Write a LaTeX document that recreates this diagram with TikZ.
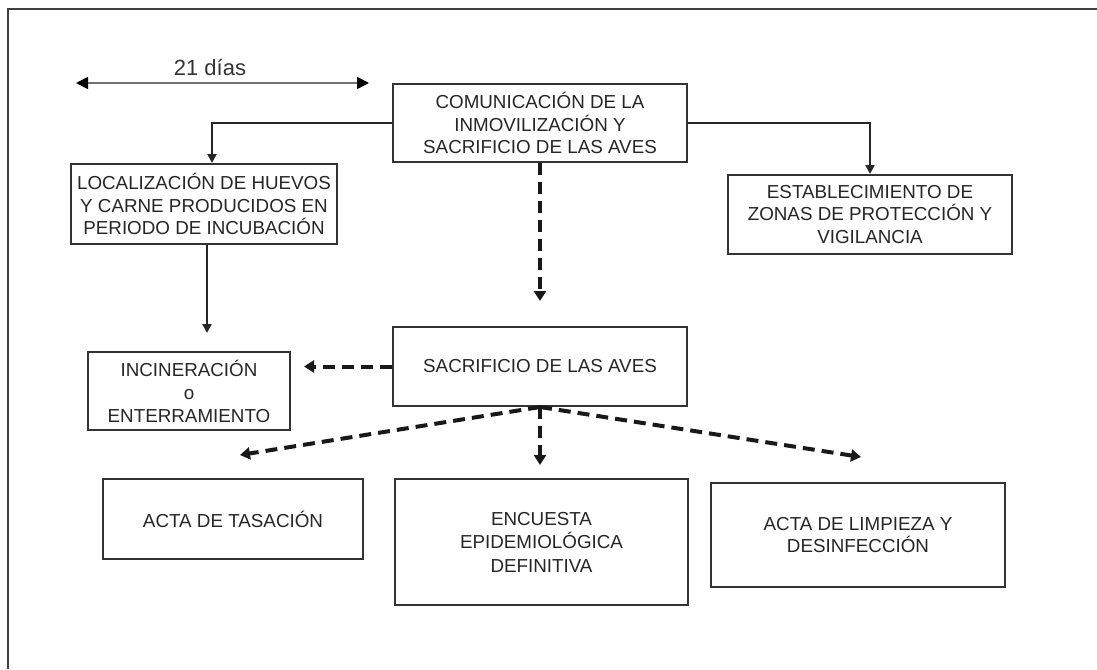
\documentclass[tikz,border=0pt]{standalone}
\usepackage{fontspec}
\setmainfont{Liberation Sans}
\usetikzlibrary{arrows.meta,calc}
\begin{document}
\begin{tikzpicture}[x=1pt,y=-1pt,
  box/.style={draw=black!80,line width=2pt,fill=white,align=center,inner sep=2pt,
    text=black!85,font=\fontsize{18.8pt}{22.5pt}\selectfont},
  solidarrow/.style={draw=black!85,line width=2.4pt,-{Triangle[length=9pt,width=9pt]}},
  dasharrow/.style={draw=black!90,line width=4pt,dash pattern=on 12pt off 7pt,-{Triangle[length=10pt,width=12pt]}},
  spanarrow/.style={draw=black!55,line width=1.8pt,{Triangle[length=12pt,width=12pt,color=black]}-{Triangle[length=12pt,width=12pt,color=black]}}
]
\useasboundingbox (0,0) rectangle (1097,669);
% frame
\draw[line width=2.2pt,black!75] (8,669) -- (8,9) -- (1097,9);

% 21 dias
\coordinate (d1) at (76,83);
\coordinate (d2) at (369,83);
\draw[spanarrow] (d1) -- (d2);
\node[text=black!80,font=\fontsize{22pt}{24pt}\selectfont] (dias) at (210,68) {21 días};

% boxes
\node[box,minimum width=294pt,minimum height=78pt] (top) at (540,123)
  {COMUNICACIÓN DE LA\\INMOVILIZACIÓN Y\\SACRIFICIO DE LAS AVES};
\node[box,minimum width=266pt,minimum height=80pt] (loc) at (204,204)
  {LOCALIZACIÓN DE HUEVOS\\Y CARNE PRODUCIDOS EN\\PERIODO DE INCUBACIÓN};
\node[box,minimum width=284pt,minimum height=79pt] (estab) at (870,214.5)
  {ESTABLECIMIENTO DE\\ZONAS DE PROTECCIÓN Y\\VIGILANCIA};
\node[box,minimum width=202pt,minimum height=78pt,font=\fontsize{18.8pt}{23pt}\selectfont] (incin) at (189,391)
  {INCINERACIÓN\\o\\ENTERRAMIENTO};
\node[box,minimum width=294pt,minimum height=79pt] (sacrif) at (540,366.5)
  {SACRIFICIO DE LAS AVES};
\node[box,minimum width=260pt,minimum height=80pt] (acta) at (233,519)
  {ACTA DE TASACIÓN};
\node[box,minimum width=293pt,minimum height=126pt,font=\fontsize{18.8pt}{23.5pt}\selectfont] (encu) at (541.5,542)
  {ENCUESTA\\EPIDEMIOLÓGICA\\DEFINITIVA};
\node[box,minimum width=294pt,minimum height=104pt] (limp) at (858,535)
  {ACTA DE LIMPIEZA Y\\DESINFECCIÓN};

% solid connectors
\draw[solidarrow] (top.west) -| ([xshift=8pt]loc.north);
\draw[solidarrow] (top.east) -| (estab.north);
\coordinate (locend) at (207,333);
\draw[solidarrow] ([xshift=3pt]loc.south) -- (locend);

% dashed connectors
\coordinate (t1) at (540,301);
\draw[dasharrow] (top.south) -- (t1);
\coordinate (s1) at ([xshift=-88pt]sacrif.west);
\draw[dasharrow] (sacrif.west) -- (s1);
\coordinate (b1) at (240,455);
\coordinate (b2) at (540,465);
\coordinate (b3) at (861,457);
\draw[dasharrow] (sacrif.south) -- (b1);
\draw[dasharrow] (sacrif.south) -- (b2);
\draw[dasharrow] (sacrif.south) -- (b3);
\end{tikzpicture}
\end{document}
